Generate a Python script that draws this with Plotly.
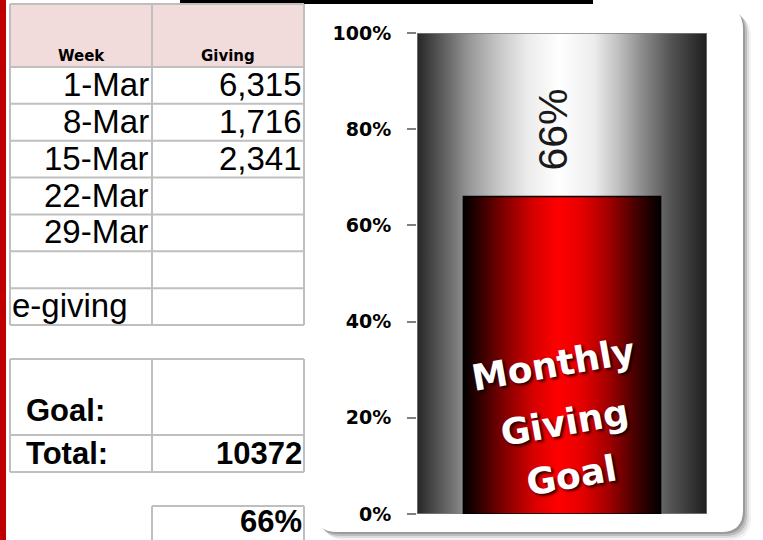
import plotly.graph_objects as go

# ---------------- data ----------------
header = ["Week", "Giving"]
weeks = ["1-Mar", "8-Mar", "15-Mar", "22-Mar", "29-Mar", "", "e-giving"]
giving = [6315, 1716, 2341, None, None, None, None]
goal_label = "Goal:"
total_label = "Total:"
goal_value = None
total_value = 10372
pct_value = 0.66
full_value = 1.0
chart_words = ["Monthly", "Giving", "Goal"]
tick_vals = [0, 0.2, 0.4, 0.6, 0.8, 1.0]

W, H = 763, 540


def px(x):
    return x / W


def py(y):
    return 1 - y / H


GRID = "#bfbfbf"
shapes = []
annotations = []


def hline(x0, x1, y, color=GRID, w=2):
    shapes.append(dict(type="line", xref="paper", yref="paper", x0=px(x0), x1=px(x1),
                       y0=py(y), y1=py(y), line=dict(color=color, width=w), layer="above"))


def vline(x, y0, y1, color=GRID, w=2):
    shapes.append(dict(type="line", xref="paper", yref="paper", x0=px(x), x1=px(x),
                       y0=py(y0), y1=py(y1), line=dict(color=color, width=w), layer="above"))


def rect(x0, y0, x1, y1, fill, layer="below"):
    shapes.append(dict(type="rect", xref="paper", yref="paper", x0=px(x0), x1=px(x1),
                       y0=py(y0), y1=py(y1), fillcolor=fill, line=dict(width=0), layer=layer))


def rrect_path(x0, y0, x1, y1, r):
    pts = [("M", x0 + r, y0), ("L", x1 - r, y0), ("Q", x1, y0, x1, y0 + r), ("L", x1, y1 - r),
           ("Q", x1, y1, x1 - r, y1), ("L", x0 + r, y1), ("Q", x0, y1, x0, y1 - r),
           ("L", x0, y0 + r), ("Q", x0, y0, x0 + r, y0)]
    s = ""
    for p in pts:
        cmd = p[0]
        coords = p[1:]
        parts = []
        for i in range(0, len(coords), 2):
            parts.append(f"{px(coords[i]):.5f},{py(coords[i + 1]):.5f}")
        s += cmd + " " + " ".join(parts) + " "
    return s + "Z"


# page decorations
rect(0, 0, 6, 540, "#c00000", layer="above")
rect(180, 0, 593, 4, "#000000", layer="above")

# chart card with shadow
for off, a in [(8, 0.05), (6, 0.09), (4, 0.14), (2, 0.18)]:
    shapes.append(dict(type="path", xref="paper", yref="paper",
                       path=rrect_path(315 + off, 7 + off, 743 + off, 532 + off, 22),
                       fillcolor=f"rgba(0,0,0,{a})", line=dict(width=0), layer="below"))
shapes.append(dict(type="path", xref="paper", yref="paper",
                   path=rrect_path(315, 7, 743, 532, 22),
                   fillcolor="white", line=dict(width=0), layer="below"))

# ---------------- table ----------------
col_x = [10, 152, 304]
top_y, head_y = 4, 67
row_h = (325 - 67) / 7
row_y = [head_y + row_h * i for i in range(len(weeks) + 1)]

rect(col_x[0], top_y, col_x[2], head_y, "#f2dcdb")
hline(col_x[0], col_x[2], top_y)
for y in row_y:
    hline(col_x[0], col_x[2], y)
for x in col_x:
    vline(x, top_y, row_y[-1])

body_font = dict(family="Liberation Sans, Arial", size=33, color="black")
bold_font = dict(family="Liberation Sans, Arial", size=31, color="black", weight="bold")
head_font = dict(family="DejaVu Sans", size=15, color="black", weight="bold")


def txt(x, y, text, font, xanchor="right", yanchor="middle"):
    annotations.append(dict(x=px(x), y=py(y), xref="paper", yref="paper", text=text,
                            showarrow=False, xanchor=xanchor, yanchor=yanchor, font=font,
                            borderpad=0))


for i, h in enumerate(header):
    txt((col_x[i] + col_x[i + 1]) / 2, 66, h, head_font, xanchor="center", yanchor="bottom")

for i, wk in enumerate(weeks):
    yc = (row_y[i] + row_y[i + 1]) / 2 - 1
    if wk:
        if wk[0].isdigit():
            txt(col_x[1] - 2, yc, wk, body_font)
        else:
            txt(col_x[0] + 1, yc, wk, body_font, xanchor="left")
    if giving[i] is not None:
        txt(col_x[2] - 1, yc, f"{giving[i]:,}", body_font)

# goal / total box
g_top, g_mid, g_bot = 359, 435, 472
for y in (g_top, g_mid, g_bot):
    hline(col_x[0], col_x[2], y)
for x in col_x:
    vline(x, g_top, g_bot)
txt(col_x[0] + 15, g_mid - 6, goal_label, bold_font, xanchor="left", yanchor="bottom")
if goal_value is not None:
    txt(col_x[2] - 1, g_mid - 6, f"{goal_value}", bold_font, yanchor="bottom")
txt(col_x[0] + 15, (g_mid + g_bot) / 2, total_label, bold_font, xanchor="left")
txt(col_x[2] - 1, (g_mid + g_bot) / 2, f"{total_value}", bold_font)

# percent box
p_top = 506
hline(col_x[1], col_x[2], p_top)
vline(col_x[1], p_top, 545)
vline(col_x[2], p_top, 545)
txt(col_x[2] - 1, 540, f"{pct_value:.0%}", bold_font, yanchor="bottom")

# ---------------- chart ----------------
gray_scale = [[0, "#262626"], [0.09, "#5e5e5e"], [0.18, "#979797"], [0.28, "#c6c6c6"],
              [0.38, "#ebebeb"], [0.49, "#ffffff"], [0.61, "#ededed"], [0.69, "#c2c2c2"],
              [0.78, "#8a8a8a"], [0.87, "#565656"], [0.95, "#333333"], [1, "#1e1e1e"]]
red_scale = [[0, "#000000"], [0.1, "#3c0000"], [0.22, "#8a0000"], [0.36, "#d80000"],
             [0.48, "#ff0000"], [0.6, "#e60000"], [0.74, "#a00000"], [0.88, "#420000"],
             [1, "#000000"]]

bg_x0, bg_x1 = 0.0, 1.0
bar_c, bar_hw = 0.5, 0.34

fig = go.Figure()
fig.add_trace(go.Scatter(
    x=[bg_x0, bg_x1, bg_x1, bg_x0, bg_x0], y=[0, 0, full_value, full_value, 0],
    mode="lines", fill="toself", line=dict(color="#7f7f7f", width=1.5),
    fillgradient=dict(type="horizontal", colorscale=gray_scale),
    hoverinfo="skip", showlegend=False))
fig.add_trace(go.Scatter(
    x=[bar_c - bar_hw, bar_c + bar_hw, bar_c + bar_hw, bar_c - bar_hw, bar_c - bar_hw],
    y=[0, 0, pct_value, pct_value, 0],
    mode="lines", fill="toself", line=dict(color="#000000", width=1.5),
    fillgradient=dict(type="horizontal", colorscale=red_scale),
    hoverinfo="skip", showlegend=False))

# rotated data label
annotations.append(dict(x=0.47, y=0.80, xref="x", yref="y", text=f"{pct_value:.0%}",
                        textangle=-90, showarrow=False,
                        font=dict(family="Liberation Sans, Arial", size=41, color="#1a1a1a")))
# "Monthly Giving Goal" label
word_pos = [(0.469, 0.310), (0.510, 0.191), (0.534, 0.081)]
for wd, (wx, wy) in zip(chart_words, word_pos):
    annotations.append(dict(x=wx, y=wy, xref="x", yref="y", text=wd, textangle=-10,
                            showarrow=False,
                            font=dict(family="DejaVu Sans", size=36, color="white",
                                      weight="bold", shadow="2px 2px 3px rgba(0,0,0,0.85)")))

fig.update_layout(
    width=W, height=H, autosize=False,
    margin=dict(l=0, r=0, t=0, b=0, pad=0),
    paper_bgcolor="white", plot_bgcolor="rgba(0,0,0,0)",
    xaxis=dict(domain=[px(417), px(707)], range=[0, 1], visible=False, fixedrange=True),
    yaxis=dict(domain=[py(514), py(33)], range=[0, 1], tickvals=tick_vals, tickformat=".0%",
               ticks="outside", ticklen=9, tickwidth=1.5, tickcolor="#808080",
               showgrid=False, zeroline=False, showline=False, ticklabelstandoff=12,
               automargin=False,
               tickfont=dict(family="DejaVu Sans", size=19, color="black", weight="bold"),
               fixedrange=True),
    shapes=shapes, annotations=annotations,
)

fig.write_html(
    "out.html",
    config={"displayModeBar": False, "responsive": False},
    post_script="document.body.style.margin='0';document.body.style.padding='0';"
                "document.documentElement.style.overflow='hidden';",
)
